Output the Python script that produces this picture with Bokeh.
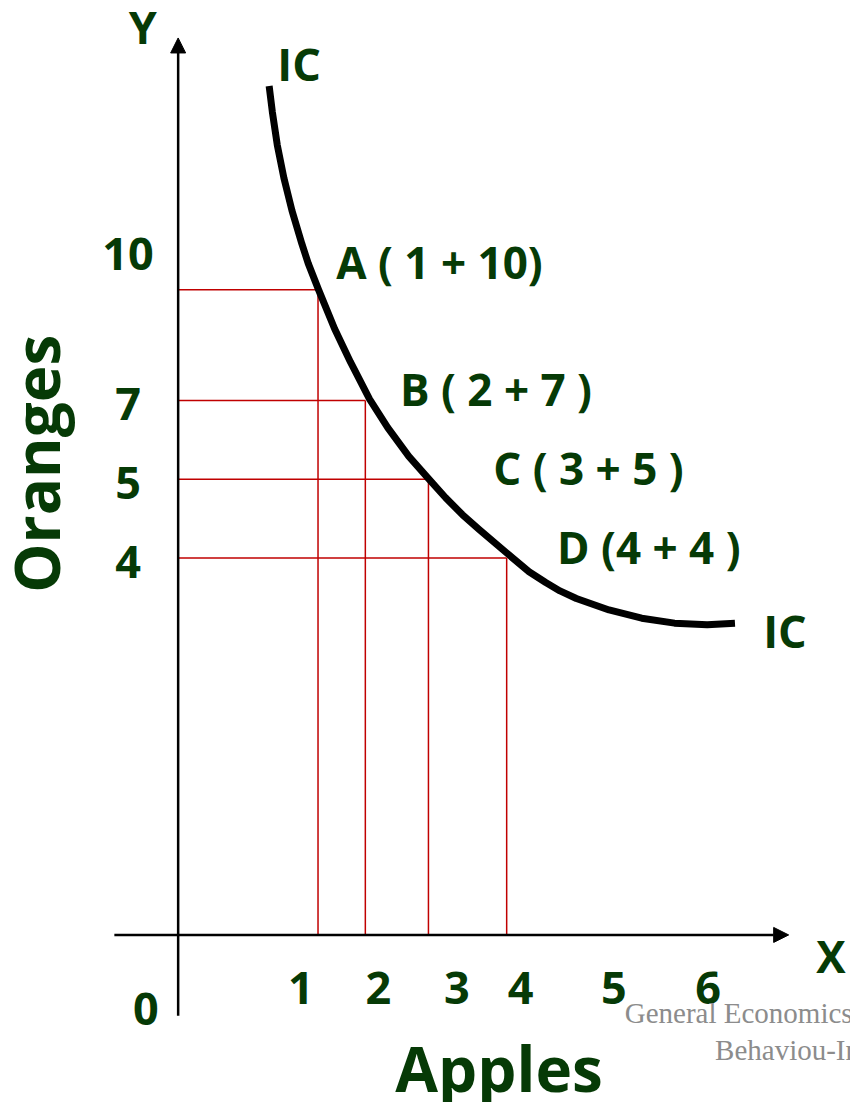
from bokeh.plotting import figure
from bokeh.models import Range1d, Arrow, NormalHead
from bokeh.core.properties import value
from bokeh.embed import file_html
from bokeh.resources import INLINE

# ---- data (diagram units: 1 unit = 100 px of the reference, origin where the axes cross) ----
bundle_names = ["A", "B", "C", "D"]
bundle_apples = [1, 2, 3, 4]
bundle_oranges = [10, 7, 5, 4]
# where each bundle sits on the drawing
bundle_x = [1.425, 1.907, 2.55, 3.347]
bundle_y = [6.545, 5.423, 4.623, 3.823]

# indifference curve
ic_x = [0.927, 0.960, 1.010, 1.077, 1.160, 1.260, 1.325, 1.430, 1.595, 1.755, 1.950, 2.135, 2.350,
        2.555, 2.725, 2.895, 3.065, 3.365, 3.575, 3.745, 3.890, 4.057, 4.390, 4.723, 5.057, 5.390, 5.673]
ic_y = [8.613, 8.347, 8.013, 7.680, 7.347, 7.013, 6.813, 6.547, 6.147, 5.813, 5.435, 5.147, 4.855,
        4.625, 4.435, 4.265, 4.115, 3.860, 3.685, 3.575, 3.490, 3.413, 3.297, 3.213, 3.163, 3.147, 3.163]

# tick labels
x_tick_labels = ["1", "2", "3", "4", "5", "6"]
x_tick_pos = [1.25, 2.04, 2.84, 3.49, 4.44, 5.40]
y_tick_labels = ["10", "7", "5", "4"]
y_tick_pos = [6.913, 5.383, 4.583, 3.783]

# point labels
label_text = ["A ( 1 + 10)", "B ( 2 + 7 )", "C ( 3 + 5 )", "D (4 + 4 )"]
label_x = [1.61, 2.26, 3.21, 3.86]
label_y = [6.83, 5.54, 4.74, 3.94]

GREEN = "#063a06"
RED = "#c00000"
FONT = value("Open Sans")

p = figure(width=850, height=1102, x_range=Range1d(-1.81, 6.85), y_range=Range1d(-1.70, 9.48),
           output_backend="svg", toolbar_location=None, min_border=0)
p.xaxis.visible = False
p.yaxis.visible = False
p.xgrid.visible = False
p.ygrid.visible = False
p.outline_line_color = None
p.background_fill_color = "white"
p.border_fill_color = "white"

# axes with arrow heads
p.add_layout(Arrow(end=NormalHead(size=15, fill_color="black", line_color="black", line_width=1),
                   x_start=0, y_start=-0.82, x_end=0, y_end=9.10, line_width=2.5, line_color="black"))
p.add_layout(Arrow(end=NormalHead(size=15, fill_color="black", line_color="black", line_width=1),
                   x_start=-0.65, y_start=0, x_end=6.22, y_end=0, line_width=2.5, line_color="black"))

# red guide lines
zeros = [0] * len(bundle_x)
p.segment(x0=zeros, y0=bundle_y, x1=bundle_x, y1=bundle_y, line_color=RED, line_width=1.5)
p.segment(x0=bundle_x, y0=zeros, x1=bundle_x, y1=bundle_y, line_color=RED, line_width=1.5)

# indifference curve
p.line(ic_x, ic_y, line_color="black", line_width=7, line_cap="butt", line_join="round")

def txt(x, y, t, size, align="left", angle=0.0, color=GREEN, font=FONT, style="bold"):
    p.text(x=x, y=y, text=t, text_font=font, text_font_style=style, angle=angle,
           text_font_size=size, text_color=color, text_align=align, text_baseline="alphabetic")

# point labels
txt(label_x, label_y, label_text, "44px")

# tick labels
txt(x_tick_pos, [-0.537] * len(x_tick_pos), x_tick_labels, "45px", "center")
txt([-0.51] * len(y_tick_pos), y_tick_pos, y_tick_labels, "45px", "center")
txt([-0.33], [-0.747], ["0"], "45px", "center")

# axis letters and IC labels
txt([-0.36], [9.215], ["Y"], "45px", "center")
txt([6.50], [-0.217], ["X"], "44px")
txt([1.01, 5.96], [8.843, 3.093], ["IC", "IC"], "45px")

# axis titles
txt([3.27], [-1.348], ["Apples"], "62px", "center")
txt([-1.444], [4.78], ["Oranges"], "62px", "center", angle=1.5708)

# watermark
txt([4.55, 5.47], [-0.792, -1.172], ["General Economics", "Behaviou-In"], "29px",
    color="#8c8c8c", font=value("Liberation Serif"), style="normal")

open("out.html", "w").write(file_html(p, INLINE))
